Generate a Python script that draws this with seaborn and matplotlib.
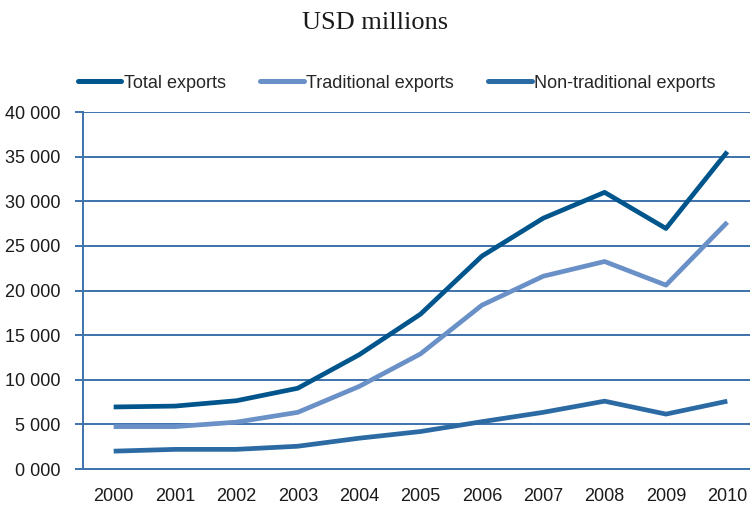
import matplotlib
matplotlib.use("Agg")
import matplotlib.pyplot as plt
from matplotlib.ticker import FixedLocator, FuncFormatter
import seaborn as sns
import pandas as pd

years = [2000, 2001, 2002, 2003, 2004, 2005, 2006, 2007, 2008, 2009, 2010]
total_exports = [6950, 7050, 7650, 9050, 12800, 17350, 23850, 28100, 31000, 26950, 35550]
traditional_exports = [4750, 4750, 5250, 6350, 9250, 12900, 18350, 21600, 23250, 20600, 27650]
non_traditional_exports = [2000, 2200, 2200, 2550, 3450, 4200, 5300, 6350, 7600, 6150, 7600]

series_names = ["Total exports", "Traditional exports", "Non-traditional exports"]
series_colors = ["#00558c", "#6a90c8", "#2c6aa4"]
grid_color = "#3d72ac"

df = pd.DataFrame({
    "pos": list(range(len(years))) * 3,
    "value": total_exports + traditional_exports + non_traditional_exports,
    "series": [series_names[0]] * len(years)
              + [series_names[1]] * len(years)
              + [series_names[2]] * len(years),
})

sns.set_theme(style="white")
plt.rcParams["font.family"] = ["Liberation Sans", "DejaVu Sans"]

fig = plt.figure(figsize=(7.5, 5.05), dpi=100)
W, H = 750, 505
left, right, top, bottom = 83, 758, 112, 469
ax = fig.add_axes([left / W, 1 - bottom / H, (right - left) / W, (bottom - top) / H])

# horizontal gridlines
for v in range(0, 40001, 5000):
    ax.axhline(v, color=grid_color, lw=1.4, zorder=1)

sns.lineplot(data=df, x="pos", y="value", hue="series", hue_order=series_names,
             palette=series_colors, linewidth=3.4, ax=ax, zorder=3,
             solid_capstyle="butt", legend=False)

ax.set_xlim(-0.5, len(years) - 0.5)
ax.set_ylim(0, 40000)
ax.set_xlabel("")
ax.set_ylabel("")

ax.xaxis.set_major_locator(FixedLocator(range(len(years))))
ax.set_xticklabels([str(y) for y in years])
ax.xaxis.set_minor_locator(FixedLocator([i - 0.5 for i in range(len(years) + 1)]))
ax.tick_params(axis="x", which="major", length=0, pad=14, labelsize=13, labelcolor="#1a1a1a")
ax.tick_params(axis="x", which="minor", length=7, width=1.4, color=grid_color, direction="out")

ax.yaxis.set_major_locator(FixedLocator(range(0, 40001, 5000)))
ax.yaxis.set_major_formatter(FuncFormatter(
    lambda v, p: "0 000" if v == 0 else f"{int(v):,}".replace(",", " ")))
ax.tick_params(axis="y", which="major", length=6, width=1.4, color=grid_color,
               direction="out", pad=10, labelsize=13, labelcolor="#1a1a1a")
ax.tick_params(left=True, bottom=False)

for s in ["top", "right"]:
    ax.spines[s].set_visible(False)
for s in ["left", "bottom"]:
    ax.spines[s].set_color(grid_color)
    ax.spines[s].set_linewidth(1.4)
    ax.spines[s].set_zorder(2)

handles = [plt.Line2D([], [], color=c, lw=3.6, solid_capstyle="round") for c in series_colors]
fig.legend(handles, series_names, loc="center left", bbox_to_anchor=(78 / W, 1 - 83 / H),
           ncol=3, frameon=False, fontsize=13, handlelength=2.4, handletextpad=0.15,
           columnspacing=1.9, borderaxespad=0, borderpad=0)

fig.text(0.5, 1 - 23 / H, "USD millions", ha="center", va="center",
         family=["Liberation Serif", "DejaVu Serif"], fontsize=19, color="#1a1a1a")

fig.savefig("out.png", dpi=100)
